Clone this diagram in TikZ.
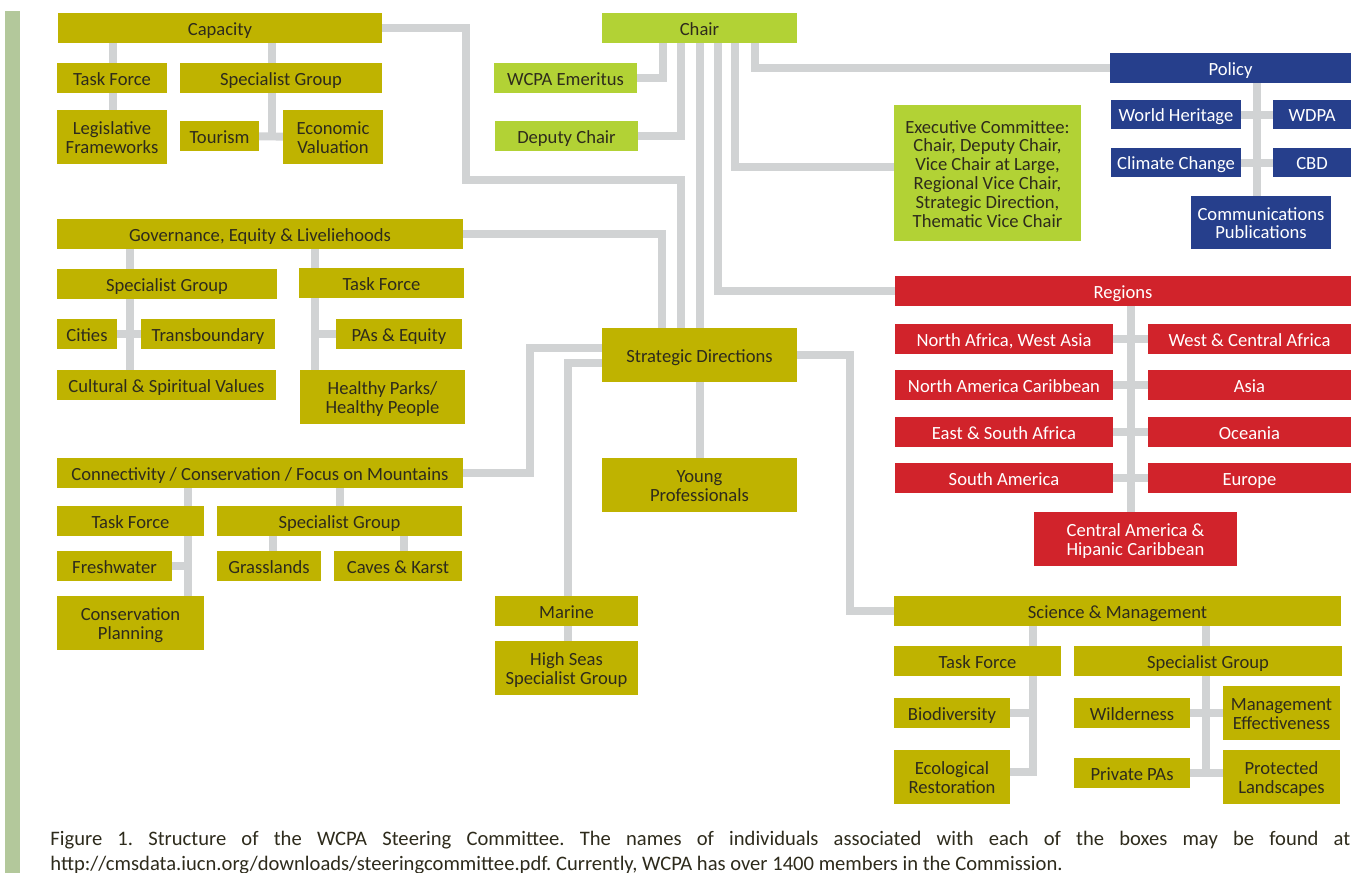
\documentclass[tikz,border=0pt]{standalone}
\usepackage{fontspec}
\setmainfont{Carlito}
\usetikzlibrary{backgrounds}
\definecolor{wcolive}{HTML}{BFB300}
\definecolor{wclime}{HTML}{B2D235}
\definecolor{wcblue}{HTML}{263F8C}
\definecolor{wcred}{HTML}{D1232B}
\definecolor{wcgray}{HTML}{D1D3D4}
\definecolor{wcbar}{HTML}{B3C89B}
\definecolor{wctext}{HTML}{2E2B1C}
\frenchspacing
\begin{document}
\begin{tikzpicture}[x=0.5pt,y=-0.5pt,
  sz/.style 2 args={minimum width=#1*0.5pt,minimum height=#2*0.5pt},
  bx/.style={inner sep=0pt,outer sep=0pt,align=center,font=\fontsize{9.3}{9.4}\selectfont,
    execute at begin node={\vrule width 0pt height 9.5pt},
    execute at end node={\vrule width 0pt depth 2.5pt}},
  ml/.style={execute at begin node={\vrule width 0pt height #1pt}},
  ml/.default=18.9,
  olivebox/.style={bx,fill=wcolive,text=wctext},
  limebox/.style={bx,fill=wclime,text=wctext},
  bluebox/.style={bx,fill=wcblue,text=white},
  redbox/.style={bx,fill=wcred,text=white},
  link/.style={draw=wcgray,line width=4pt},
  capt/.style={inner sep=0pt,text=wctext,font=\fontsize{10.3}{11}\selectfont}]
\useasboundingbox (0,0) rectangle (1362,873);
\fill[wcbar] (5,11) rectangle (20,873);
% capacity
\node[olivebox,sz={324}{30}] (capac) at (220,28) {Capacity};
\node[olivebox,sz={110}{30}] (tf1) at (112,78) {Task Force};
\node[olivebox,sz={202}{30}] (sg1) at (281,78) {Specialist Group};
\node[olivebox,ml,sz={110}{54}] (legis) at (112,137) {Legislative\\Frameworks};
\node[olivebox,sz={79}{30}] (tour) at (219.5,136) {Tourism};
\node[olivebox,ml,sz={100}{54}] (econ) at (333,137) {Economic\\Valuation};
% chair
\node[limebox,sz={195}{30}] (chair) at (699.5,28) {Chair};
\node[limebox,sz={143}{30}] (wcpa) at (565.5,78) {WCPA Emeritus};
\node[limebox,sz={143}{30}] (deputy) at (566.5,136) {Deputy Chair};
\node[limebox,ml=56.5,sz={187}{136}] (exec) at (987.5,173) {Executive Committee:\\Chair, Deputy Chair,\\Vice Chair at Large,\\Regional Vice Chair,\\Strategic Direction,\\Thematic Vice Chair};
% policy
\node[bluebox,sz={241}{30}] (policy) at (1230.5,68) {Policy};
\node[bluebox,sz={130}{29}] (wh) at (1176,114.5) {World Heritage};
\node[bluebox,sz={78}{29}] (wdpa) at (1312,114.5) {WDPA};
\node[bluebox,sz={130}{29}] (cc) at (1176,162.5) {Climate Change};
\node[bluebox,sz={78}{29}] (cbd) at (1312,162.5) {CBD};
\node[bluebox,ml,sz={140}{53}] (comm) at (1261,222.5) {Communications\\Publications};
% regions
\node[redbox,sz={456}{30}] (regions) at (1123,291) {Regions};
\foreach \l/\r/\lt/\rt/\y in {nawa/wca/{North Africa, West Asia}/{West \& Central Africa}/339,
    nac/asia/{North America Caribbean}/{Asia}/385,
    esa/oce/{East \& South Africa}/{Oceania}/432,
    sam/eur/{South America}/{Europe}/478}{
  \node[redbox,sz={218}{30}] (\l) at (1004,\y) {\lt};
  \node[redbox,sz={203}{30}] (\r) at (1249.5,\y) {\rt};
  \begin{pgfonlayer}{background}
    \draw[link] (\l) -- (\r);
  \end{pgfonlayer}
}
\node[redbox,ml,sz={203}{54}] (cam) at (1135.5,539) {Central America \&\\Hipanic Caribbean};
% governance
\node[olivebox,sz={406}{30}] (gov) at (260,234) {Governance, Equity \& Liveliehoods};
\node[olivebox,sz={220}{30}] (sg2) at (167,284) {Specialist Group};
\node[olivebox,sz={165}{30}] (tf2) at (381.5,283) {Task Force};
\node[olivebox,sz={60}{30}] (cities) at (87,334) {Cities};
\node[olivebox,sz={134}{30}] (trans) at (208,334) {Transboundary};
\node[olivebox,sz={219}{30}] (cult) at (166.5,385) {Cultural \& Spiritual Values};
\node[olivebox,sz={126}{30}] (paseq) at (399,334) {PAs \& Equity};
\node[olivebox,ml,sz={165}{54}] (hp) at (382.5,397) {Healthy Parks/\\Healthy People};
% strategic directions
\node[olivebox,sz={195}{54}] (sd) at (699.5,355) {Strategic Directions};
\node[olivebox,ml,sz={195}{54}] (yp) at (699.5,485) {Young\\Professionals};
% connectivity
\node[olivebox,sz={406}{30}] (conn) at (260,473) {Connectivity / Conservation / Focus on Mountains};
\node[olivebox,sz={147}{30}] (tf4) at (130.5,521) {Task Force};
\node[olivebox,sz={245}{30}] (sg4) at (339.5,521) {Specialist Group};
\node[olivebox,sz={115}{30}] (fresh) at (114.5,566) {Freshwater};
\node[olivebox,ml,sz={147}{54}] (plan) at (130.5,623) {Conservation\\Planning};
\node[olivebox,sz={104}{30}] (grass) at (269,566) {Grasslands};
\node[olivebox,sz={128}{30}] (caves) at (398,566) {Caves \& Karst};
% marine
\node[olivebox,sz={143}{30}] (marine) at (566.5,611) {Marine};
\node[olivebox,ml,sz={143}{54}] (seas) at (566.5,668) {High Seas\\Specialist Group};
% science and management
\node[olivebox,sz={447}{30}] (sm) at (1117.5,611) {Science \& Management};
\node[olivebox,sz={167}{30}] (tf3) at (977.5,661) {Task Force};
\node[olivebox,sz={268}{30}] (sg3) at (1208,661) {Specialist Group};
\node[olivebox,sz={116}{30}] (biod) at (952,713) {Biodiversity};
\node[olivebox,ml,sz={116}{54}] (ecol) at (952,777) {Ecological\\Restoration};
\node[olivebox,sz={116}{30}] (wild) at (1132,713) {Wilderness};
\node[olivebox,ml,sz={117}{54}] (mgmt) at (1281.5,713) {Management\\Effectiveness};
\node[olivebox,sz={116}{30}] (priv) at (1132,773) {Private PAs};
\node[olivebox,ml,sz={117}{54}] (prot) at (1281.5,777) {Protected\\Landscapes};
% caption
\node[capt,anchor=base west] (fig1) at (50,845) {\makebox[650pt][s]{Figure 1. Structure of the WCPA Steering Committee. The names of individuals associated with each of the boxes may be found at}};
\node[capt,anchor=base west] (fig2) at (50,870) {http://cmsdata.iucn.org/downloads/steeringcommittee.pdf. Currently, WCPA has over 1400 members in the Commission.};
\begin{pgfonlayer}{background}
\draw[link] (capac) -| (466,180) -| (681,0 |- sd);
\draw[link] (113,0 |- capac) -- (113,0 |- legis);
\draw[link] (272,0 |- capac) -- (272,0 |- tour);
\draw[link] (tour) -- (econ);
\draw[link] (wcpa) -| (663,0 |- chair);
\draw[link] (deputy) -| (681,0 |- chair);
\draw[link] (chair) -- (sd);
\draw[link] (718,0 |- chair) |- (regions);
\draw[link] (735,0 |- chair) |- ([yshift=3pt]exec.west);
\draw[link] (755,0 |- chair) |- (policy);
\draw[link] (1257,0 |- policy) -- (1257,0 |- comm);
\draw[link] (wh) -- (wdpa);
\draw[link] (cc) -- (cbd);
\draw[link] (1131,0 |- regions) -- (1131,0 |- cam);
\draw[link] (gov) -| (662,0 |- sd);
\draw[link] (130,0 |- gov) -- (130,0 |- cult);
\draw[link] (cities) -- (trans);
\draw[link] (315,0 |- gov) -- (315,0 |- hp);
\draw[link] (paseq) -- (315,0 |- paseq);
\draw[link] (conn) -| (530,348) -- (sd |- 530,348);
\draw[link] (188,0 |- conn) -- (188,0 |- plan);
\draw[link] (fresh) -- (188,0 |- fresh);
\draw[link] (340,0 |- conn) -- (340,0 |- sg4);
\draw[link] (273,0 |- sg4) -- (273,0 |- grass);
\draw[link] (404,0 |- sg4) -- (404,0 |- caves);
\draw[link] (568,0 |- seas) |- ([yshift=-4pt]sd.west);
\draw[link] (sd) -- (yp);
\draw[link] (sd) -| (850,0 |- sm) -- (sm);
\draw[link] (1033,0 |- sm) |- ([yshift=2.5pt]ecol.east);
\draw[link] (biod) -- (1033,0 |- biod);
\draw[link] (1206,0 |- sm) |- (priv);
\draw[link] (priv) -- (priv -| prot);
\draw[link] (wild) -- (mgmt);
\end{pgfonlayer}
\end{tikzpicture}
\end{document}
